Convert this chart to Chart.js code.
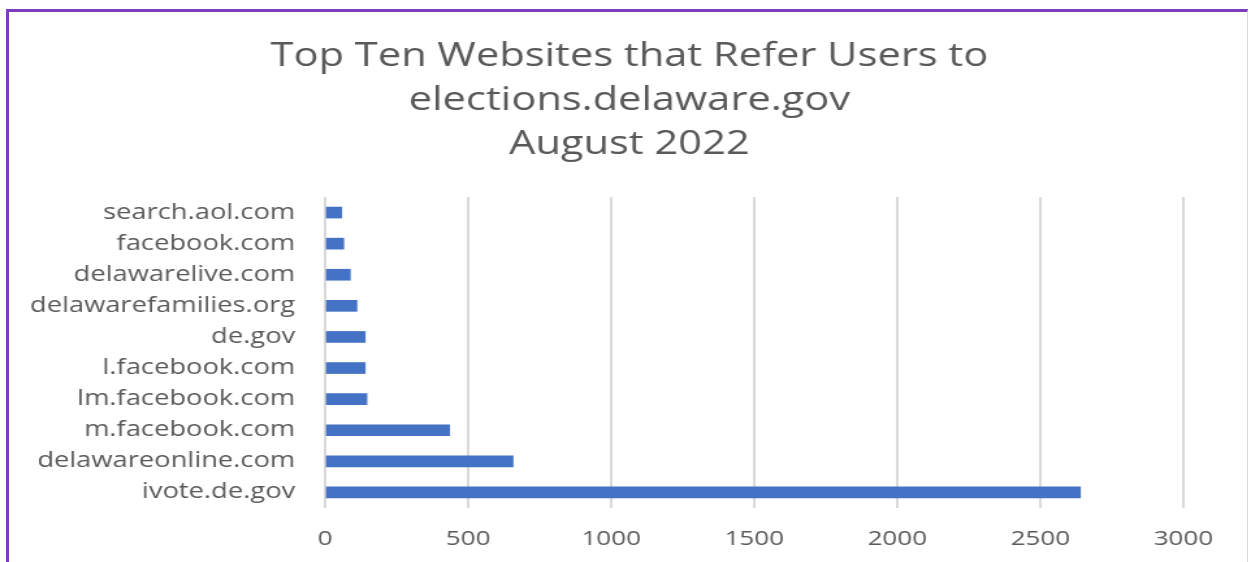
<!DOCTYPE html>
<html>
<head>
<meta charset="utf-8">
<title>Top Ten Websites that Refer Users to elections.delaware.gov</title>
<script src="https://cdn.jsdelivr.net/npm/chart.js@4"></script>
<style>
  html, body { margin: 0; padding: 0; background: #fff; overflow: hidden; }
  #wrap { position: relative; width: 1251px; height: 562px; overflow: hidden; }
  /* la imagen original está estirada en horizontal, se imita con scaleX */
  #lienzo { position: absolute; left: 0; top: 0; width: 962px; height: 562px;
    transform: scaleX(1.3004); transform-origin: 0 0; }
  #frame {
    position: absolute; left: 6px; top: 9px; width: 1242px; height: 560px;
    border-top: 3px solid #7E3DBE; border-left: 3px solid #7E3DBE;
    border-right: 1px solid #d9d9d9; box-sizing: border-box; pointer-events: none;
  }
</style>
</head>
<body>
<div id="wrap">
  <div id="lienzo"><canvas id="grafico" width="962" height="562"></canvas></div>
  <div id="frame"></div>
</div>
<script>
// Datos del gráfico (de arriba hacia abajo)
const sitios = ['search.aol.com', 'facebook.com', 'delawarelive.com', 'delawarefamilies.org', 'de.gov',
  'l.facebook.com', 'lm.facebook.com', 'm.facebook.com', 'delawareonline.com', 'ivote.de.gov'];
const visitas = [58, 65, 88, 111, 140, 140, 146, 435, 657, 2640];
const titulo = ['Top Ten Websites that Refer Users to', 'elections.delaware.gov', 'August 2022'];
const ejeMax = 3000;
const paso = 500;

const gris = '#595959';
const fuente = '"Open Sans", "Noto Sans", sans-serif';

// Las etiquetas del eje Y son más anchas que su caja: no recortarlas
const sinRecorte = {
  id: 'sinRecorte',
  beforeDraw(chart) {
    chart.scales.y._computeLabelArea = function () { return undefined; };
  }
};

new Chart(document.getElementById('grafico'), {
  type: 'bar',
  data: {
    labels: sitios,
    datasets: [{
      data: visitas,
      backgroundColor: '#4472C4',
      barThickness: 11
    }]
  },
  options: {
    indexAxis: 'y',
    responsive: false,
    animation: false,
    devicePixelRatio: 1,
    layout: { padding: { top: 35, right: 52, bottom: 0, left: 58 } },
    plugins: {
      legend: { display: false },
      tooltip: { enabled: false },
      title: {
        display: true,
        text: titulo,
        color: gris,
        font: { family: fuente, size: 32, weight: 'normal', lineHeight: 1.375 },
        padding: { top: 0, bottom: 30 }
      }
    },
    scales: {
      x: {
        min: 0,
        max: ejeMax,
        ticks: {
          stepSize: paso, color: gris, font: { family: fuente, size: 20 }, padding: 19,
          callback: function (v) { return String(v); }
        },
        grid: { color: '#d9d9d9', lineWidth: 2, tickLength: 0 },
        border: { display: false },
        afterFit: function (s) { s.height = 54; }
      },
      y: {
        ticks: { color: gris, font: { family: fuente, size: 21 }, padding: 15, autoSkip: false },
        grid: { display: false },
        border: { display: false },
        afterFit: function (s) { s.width = 192; }
      }
    }
  },
  plugins: [sinRecorte]
});
</script>
</body>
</html>
